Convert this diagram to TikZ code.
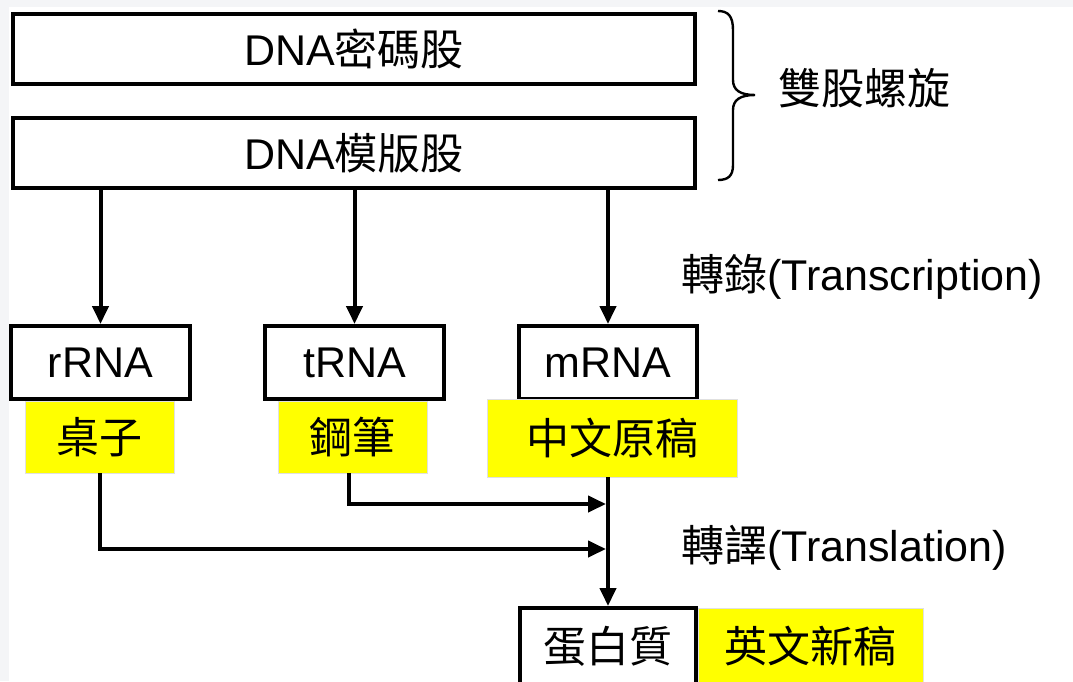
\documentclass[tikz,border=0pt]{standalone}
\usepackage{fontspec}
\setmainfont{Liberation Sans}
\newfontfamily\cjk{Noto Sans CJK TC}
\usetikzlibrary{arrows.meta}
\definecolor{bggray}{HTML}{F4F5F7}
\definecolor{hl}{HTML}{FFFF00}
\begin{document}
\begin{tikzpicture}[x=1pt,y=-1pt,
  every node/.style={font=\fontsize{43}{50}\selectfont, inner sep=0pt},
  box/.style={draw, line width=4pt, fill=white},
  hlbox/.style={fill=hl, draw=black!12, line width=0.8pt},
  conn/.style={line width=4pt, -{Triangle[length=18pt,width=16pt]}}]
\useasboundingbox (0,0) rectangle (1073,681);
\clip (0,0) rectangle (1073,681);
\fill[bggray] (0,0) rectangle (1073,681);
\fill[white] (9,7) rectangle (1073,681);

% DNA strands
\node[box, minimum width=682pt, minimum height=70pt] (dnac) at (354,49) {DNA{\cjk 密碼股}};
\node[box, minimum width=682pt, minimum height=70pt] (dnat) at (354,153) {DNA{\cjk 模版股}};

% brace
\draw[line width=2.4pt] (718,11) .. controls (728,11) and (733,16) .. (733,30) -- (733,80)
  .. controls (733,90) and (740,95) .. (755,95)
  .. controls (740,95) and (733,100) .. (733,110) -- (733,165)
  .. controls (733,176) and (728,180) .. (718,180);
\node[anchor=west] (dh) at (778,88) {\cjk 雙股螺旋};

% RNA boxes
\node[box, minimum width=179pt, minimum height=73pt] (rrna) at (100.5,362.5) {rRNA};
\node[box, minimum width=179pt, minimum height=73pt] (trna) at (354.5,362.5) {tRNA};
\node[box, minimum width=178pt, minimum height=73pt] (mrna) at (608,362.5) {mRNA};

% yellow labels
\node[hlbox, minimum width=149pt, minimum height=72pt] (zhuo) at (99.5,437) {\cjk 桌子};
\node[hlbox, minimum width=149pt, minimum height=72pt] (gang) at (352.5,437) {\cjk 鋼筆};
\node[hlbox, minimum width=250pt, minimum height=78pt] (zh) at (612,438) {\cjk 中文原稿};

% protein
\node[box, minimum width=176pt, minimum height=76pt] (prot) at (608,646) {\cjk 蛋白質};
\node[hlbox, minimum width=225pt, minimum height=76pt, anchor=west] (en) at (698,646) {\cjk 英文新稿};

% transcription arrows
\draw[conn] (rrna.north |- dnat.south) -- (rrna.north);
\draw[conn] (trna.north |- dnat.south) -- (trna.north);
\draw[conn] (mrna.north |- dnat.south) -- (mrna.north);
\node[anchor=west] (tc) at (681,277) {{\cjk 轉錄}(Transcription)};

% translation
\coordinate (j1) at (608,504);
\coordinate (j2) at (608,549);
\draw[conn] (zh.south -| mrna.south) -- (prot.north);
\draw[conn, shorten >=2pt] (gang.south -| 349,0) -- (349,504) -- (j1);
\draw[conn, shorten >=2pt] (zhuo.south) -- (zhuo.south |- j2) -- (j2);
\node[anchor=west] (tl) at (681,548) {{\cjk 轉譯}(Translation)};
\end{tikzpicture}
\end{document}
